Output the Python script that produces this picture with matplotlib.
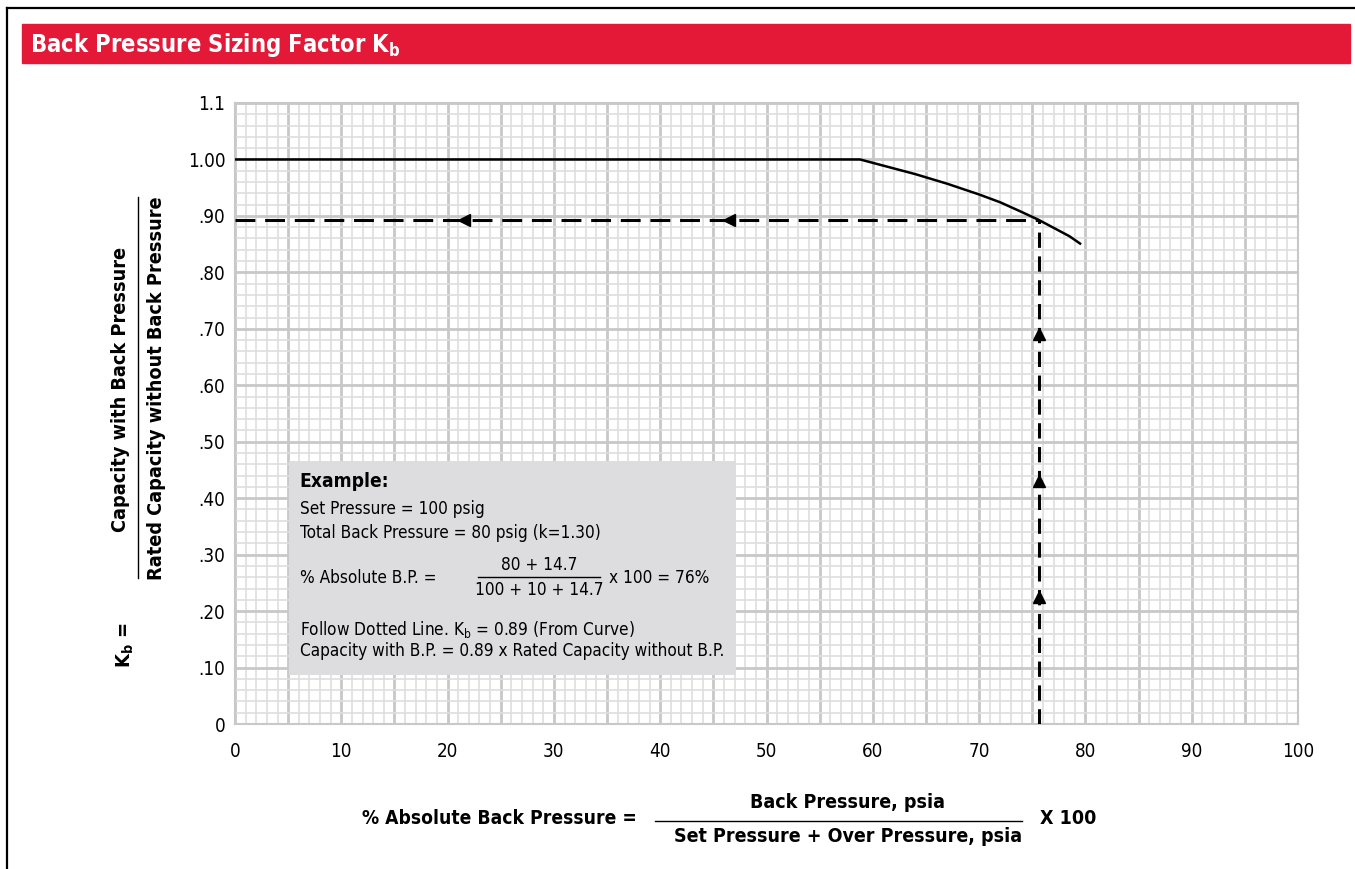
import numpy as np
import matplotlib
matplotlib.use("Agg")
import matplotlib.pyplot as plt
from matplotlib.lines import Line2D
from matplotlib.patches import Rectangle
from matplotlib import font_manager

# pick a narrow sans font if one is installed
fonts = font_manager.fontManager.ttflist
names = {f.name for f in fonts}
if 'Liberation Sans Narrow' in names:
    plt.rcParams['font.family'] = ['Liberation Sans Narrow', 'DejaVu Sans']
elif any(f.name == 'DejaVu Sans' and 'condensed' in str(f.stretch) for f in fonts):
    plt.rcParams['font.family'] = ['DejaVu Sans']
    plt.rcParams['font.stretch'] = 'condensed'
else:
    plt.rcParams['font.family'] = ['Roboto', 'DejaVu Sans']

# Curve data
pct_abs_bp = [0, 58.8, 61, 64, 67, 70, 72, 74, 75.6, 77, 78.5, 79.5]
kb_factor = [1.0, 1.0, 0.989, 0.974, 0.957, 0.938, 0.924, 0.907, 0.893, 0.879, 0.864, 0.851]

# Example read-off
example_x = 75.6
example_kb = 0.893
h_arrow_x = [21.5, 46.5]
v_arrow_y = [0.225, 0.43, 0.69]

x_ticks = list(range(0, 101, 10))
y_ticks = [0, 0.1, 0.2, 0.3, 0.4, 0.5, 0.6, 0.7, 0.8, 0.9, 1.0, 1.1]
y_tick_labels = ['0', '.10', '.20', '.30', '.40', '.50', '.60', '.70', '.80', '.90', '1.00', '1.1']

RED = '#e31937'

fig = plt.figure(figsize=(13.55, 8.69), dpi=100)

# outer frame lines (top and left)
fig.add_artist(Line2D([7/1355, 1], [1 - 8/869, 1 - 8/869], color='black', lw=1.6))
fig.add_artist(Line2D([7/1355, 7/1355], [0, 1 - 8/869], color='black', lw=1.6))

# red title banner
fig.add_artist(Rectangle((22/1355, 1 - 63/869), (1350 - 22)/1355, 39/869,
                         color=RED, transform=fig.transFigure))
fig.text(30/1355, 1 - 45/869, r'Back Pressure Sizing Factor K$_\mathregular{b}$',
         color='white', fontsize=17, fontweight='bold', va='center', ha='left')

ax = fig.add_axes([235/1355, 1 - 724/869, (1298 - 235)/1355, (724 - 103)/869])
ax.set_xlim(0, 100)
ax.set_ylim(0, 1.1)

# graph paper grid
for xv in range(0, 101):
    major = xv % 5 == 0
    ax.axvline(xv, color='#c8c8c8' if major else '#dedede', lw=2.0 if major else 1.2, zorder=0)
for i in range(0, 56):
    yv = i * 0.02
    major = i % 5 == 0
    ax.axhline(yv, color='#c8c8c8' if major else '#dedede', lw=2.0 if major else 1.2, zorder=0)

for s in ax.spines.values():
    s.set_color('#c8c8c8')
    s.set_linewidth(1.5)

ax.set_xticks(x_ticks)
ax.set_yticks(y_ticks)
ax.set_yticklabels(y_tick_labels)
ax.tick_params(length=0, labelsize=13.5)
ax.tick_params(axis='x', pad=13)
ax.tick_params(axis='y', pad=7)

# example box
ax.add_patch(Rectangle((5.1, 0.087), 42.0, 0.379, facecolor='#dddddf', edgecolor='none', zorder=2))

# curve
ax.plot(pct_abs_bp, kb_factor, color='black', lw=1.8, zorder=4)

# dashed read-off lines
ax.plot([0, example_x], [example_kb, example_kb], color='black', lw=2.2,
        dashes=(6.5, 3.2), zorder=4)
ax.plot([example_x, example_x], [0, example_kb], color='black', lw=2.2,
        dashes=(5, 2.8), zorder=4)
ax.plot(h_arrow_x, [example_kb] * len(h_arrow_x), linestyle='none', marker='<',
        markersize=9, color='black', zorder=5)
ax.plot([example_x] * len(v_arrow_y), v_arrow_y, linestyle='none', marker='^',
        markersize=9, color='black', zorder=5)

# example text
tx = 6.1
fs = 12.3
ax.text(tx, 0.429, 'Example:', fontsize=13.8, fontweight='bold', va='center', zorder=6)
ax.text(tx, 0.380, 'Set Pressure = 100 psig', fontsize=fs, va='center', zorder=6)
ax.text(tx, 0.339, 'Total Back Pressure = 80 psig (k=1.30)', fontsize=fs, va='center', zorder=6)
ax.text(tx, 0.258, '% Absolute B.P. =', fontsize=fs, va='center', zorder=6)
ax.text(28.6, 0.281, '80 + 14.7', fontsize=fs, va='center', ha='center', zorder=6)
ax.plot([22.9, 34.3], [0.260, 0.260], color='black', lw=1.0, zorder=6)
ax.text(28.6, 0.237, '100 + 10 + 14.7', fontsize=fs, va='center', ha='center', zorder=6)
ax.text(35.2, 0.258, 'x 100 = 76%', fontsize=fs, va='center', zorder=6)
ax.text(tx, 0.167, r'Follow Dotted Line. K$_\mathregular{b}$ = 0.89 (From Curve)',
        fontsize=fs, va='center', zorder=6)
ax.text(tx, 0.130, 'Capacity with B.P. = 0.89 x Rated Capacity without B.P.',
        fontsize=fs, va='center', zorder=6)

# y-axis label as a fraction
fig.text(125/1355, 1 - 645/869, r'K$_\mathregular{b}$ =', rotation=90, fontsize=14.5,
         fontweight='bold', ha='center', va='center')
fig.text(121/1355, 1 - 389/869, 'Capacity with Back Pressure', rotation=90, fontsize=14.2,
         fontweight='bold', ha='center', va='center')
fig.add_artist(Line2D([138/1355, 138/1355], [1 - 578/869, 1 - 197/869], color='black', lw=1.0))
fig.text(156/1355, 1 - 388/869, 'Rated Capacity without Back Pressure', rotation=90, fontsize=14.2,
         fontweight='bold', ha='center', va='center')

# x-axis label as a fraction
fig.text(637/1355, 1 - 819/869, '% Absolute Back Pressure =', fontsize=13.8,
         fontweight='bold', ha='right', va='center')
fig.text(848/1355, 1 - 803/869, 'Back Pressure, psia', fontsize=14,
         fontweight='bold', ha='center', va='center')
fig.add_artist(Line2D([655/1355, 1022/1355], [1 - 821/869, 1 - 821/869], color='black', lw=1.0))
fig.text(848/1355, 1 - 837/869, 'Set Pressure + Over Pressure, psia', fontsize=14,
         fontweight='bold', ha='center', va='center')
fig.text(1040/1355, 1 - 819/869, 'X 100', fontsize=14, fontweight='bold', ha='left', va='center')

fig.savefig('out.png', dpi=100)
